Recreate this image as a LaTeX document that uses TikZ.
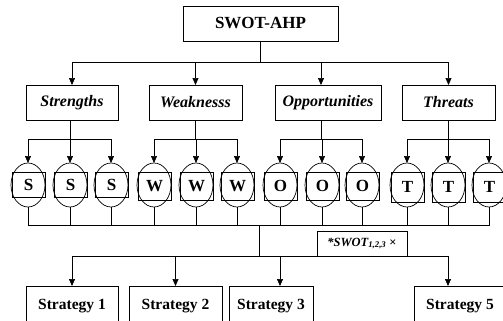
\documentclass[tikz,border=0pt]{standalone}
\usepackage{fontspec}
\setmainfont{Liberation Serif}
\usetikzlibrary{shapes.geometric,arrows.meta}
\begin{document}
\begin{tikzpicture}[x=1pt,y=-1pt,
  line width=0.7pt,
  every node/.style={inner sep=0pt, outer sep=0pt},
  box/.style={draw, rectangle},
  arr/.style={-{Triangle[length=7pt,width=6pt]}},
  cat/.style={box, minimum height=35pt, font=\fontsize{16}{18}\selectfont\bfseries\itshape},
  strat/.style={box, minimum height=40pt, font=\fontsize{15.5}{17}\selectfont\bfseries},
  oval/.style={draw, ellipse, minimum width=34pt, minimum height=44pt},
  letter/.style={draw, rectangle, minimum width=33pt, font=\fontsize{17}{18}\selectfont\bfseries},
]
\clip (0,0) rectangle (503,321);
\fill[white] (0,0) rectangle (503,321);

% top
\node[box, minimum width=155pt, minimum height=35pt, font=\fontsize{17}{19}\selectfont\bfseries] (top) at (260.5,23.5) {SWOT-AHP};
\coordinate (tj) at (260,62);

% categories
\node[cat, minimum width=92pt]  (cs) at (72,102.5)  {Strengths};
\node[cat, minimum width=93pt]  (cw) at (195.5,102.5) {Weaknesss};
\node[cat, minimum width=106pt] (co) at (328,102.5) {Opportunities};
\node[cat, minimum width=93pt]  (ct) at (448.5,102.5) {Threats};
\coordinate (coin) at (321,85);
\coordinate (coout) at (321,120);

\draw (top.south -| tj) -- (tj);
\draw[arr] (tj) -| (cs.north);
\draw[arr] (tj) -| (cw.north);
\draw[arr] (tj) -| (coin);
\draw[arr] (tj) -| (ct.north);

% elements
\foreach \n/\x/\l/\h/\dy in {1/28/S/25/0, 2/70/S/25/0, 3/111/S/25/0,
  4/154/W/28/1.5, 5/196/W/28/1.5, 6/237/W/28/1.5,
  7/280/O/28/1.5, 8/322/O/28/1.5, 9/362/O/28/1.5,
  10/407/T/30/2.5, 11/448/T/30/2.5, 12/489/T/30/2.5}{
  \node[oval] (e\n) at (\x,185) {};
  \node[letter, minimum height=\h pt] (r\n) at (\x+0.5,{184.5+\dy}) {\l};
}

% category to elements
\coordinate (sj) at (70,139);
\coordinate (wj) at (195.5,139);
\coordinate (oj) at (321,139);
\coordinate (tj2) at (448,139);
\draw (cs.south -| sj) -- (sj);
\draw (cw.south) -- (wj);
\draw (coout) -- (oj);
\draw (ct.south -| tj2) -- (tj2);
\foreach \j/\a/\b/\c in {sj/1/2/3, wj/4/5/6, oj/7/8/9, tj2/10/11/12}{
  \draw[arr] (\j) -| (e\a.north);
  \draw[arr] (\j) -| (e\b.north);
  \draw[arr] (\j) -| (e\c.north);
}

% bus
\coordinate (bus) at (259,225);
\foreach \n in {1,...,12}{
  \draw (e\n.south) |- (bus);
}
\coordinate (bj) at (259,256);
\draw (bus) -- (bj);

% label
\node[box, minimum width=90pt, minimum height=25pt, font=\fontsize{12.5}{14}\selectfont\bfseries] (lab) at (362,243.5) {\itshape *SWOT\textsubscript{1,2,3} \upshape ×};

% strategies
\node[strat, minimum width=92pt] (s1) at (72,306) {Strategy 1};
\node[strat, minimum width=93pt] (s2) at (175.5,306) {Strategy 2};
\node[strat, minimum width=84pt] (s3) at (271,306) {Strategy 3};
\node[strat, minimum width=92pt] (s5) at (460,306) {Strategy 5};
\coordinate (s3in) at (280,286);
\coordinate (s5in) at (448,286);
\draw[arr] (bj) -| (s1.north);
\draw[arr] (bj) -| (s2.north);
\draw[arr] (bj) -| (s3in);
\draw[arr] (bj) -| (s5in);
\end{tikzpicture}
\end{document}
